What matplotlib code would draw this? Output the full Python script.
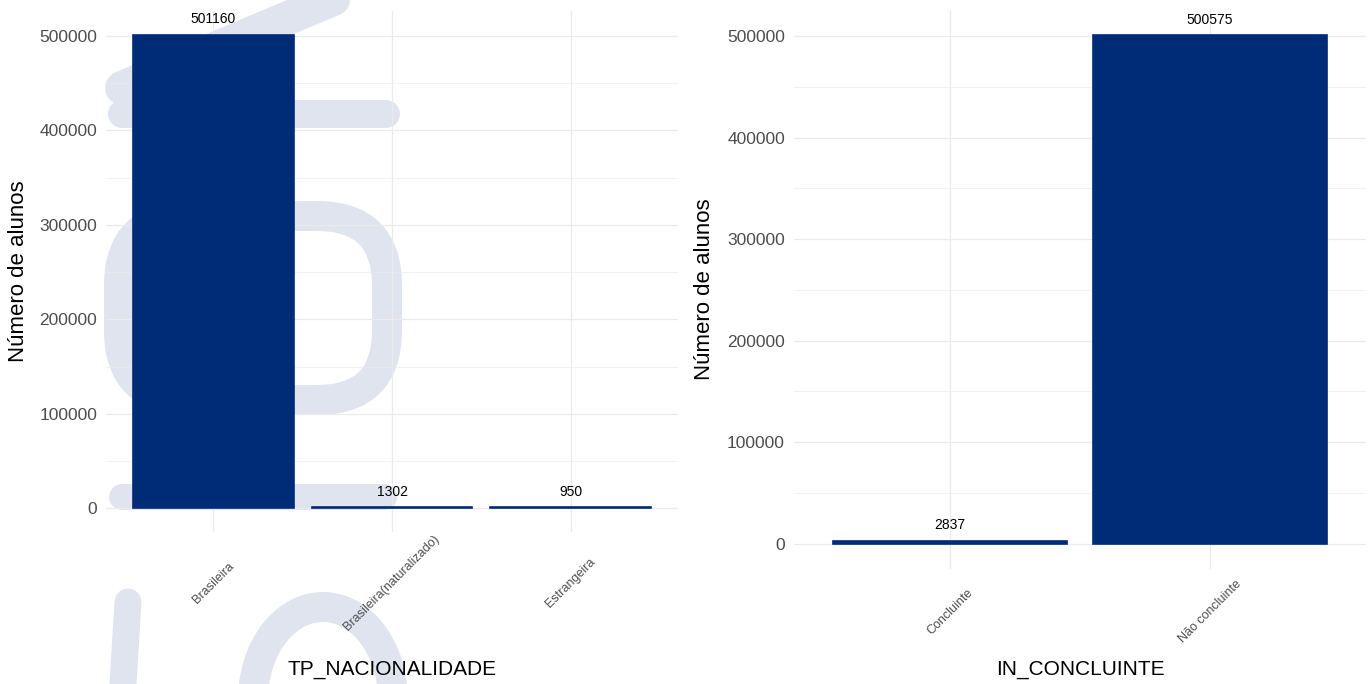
import numpy as np
import matplotlib
matplotlib.use("Agg")
import matplotlib.pyplot as plt
from matplotlib.patches import FancyBboxPatch

plt.rcParams['font.family'] = ['Liberation Sans', 'DejaVu Sans']

# dados
nac_cats = ["Brasileira", "Brasileira(naturalizado)", "Estrangeira"]
nac_vals = [501160, 1302, 950]
conc_cats = ["Concluinte", "Não concluinte"]
conc_vals = [2837, 500575]

cor_barra = "#002b77"
cor_grid = "#ebebeb"
cor_texto = "#4d4d4d"
cor_marca = "#e0e4ef"

fig = plt.figure(figsize=(13.72, 6.84), dpi=100)

# marca d'agua ao fundo (coordenadas em pixels da figura)
bg = fig.add_axes([0, 0, 1, 1], zorder=0)
bg.set_xlim(0, 1372)
bg.set_ylim(684, 0)
bg.axis("off")
px = 72 / 100  # pixel -> pontos
kw = dict(color=cor_marca, solid_capstyle="round")
bg.plot([122, 345], [88, -6], lw=34 * px, **kw)
bg.plot([122, 386], [114, 114], lw=28 * px, **kw)
bg.plot([122, 384], [497, 497], lw=26 * px, **kw)
bg.plot([128, 122], [602, 700], lw=27 * px, **kw)
anel = FancyBboxPatch((119, 216), 268, 184, boxstyle="round,pad=0,rounding_size=70",
                      fill=False, ec=cor_marca, lw=30 * px)
bg.add_patch(anel)
t = np.linspace(0, np.pi, 60)
bg.plot(323 - 70 * np.cos(t), 700 - 93 * np.sin(t), lw=30 * px, **kw)


def painel(ax, cats, vals, titulo, pad_x, y_titulo, x_ylabel):
    x = np.arange(len(cats))
    ax.set_facecolor("none")
    ax.bar(x, vals, width=0.9, color=cor_barra, edgecolor=cor_barra, lw=1.2, zorder=3)
    for xi, v in zip(x, vals):
        ax.annotate(str(v), (xi, v), xytext=(0, 6), textcoords="offset points",
                    ha="center", va="bottom", fontsize=10, color="black")
    vmax = max(vals)
    ax.set_ylim(-0.05 * vmax, 1.05 * vmax)
    ax.set_xlim(-0.6, len(cats) - 0.4)
    ax.set_yticks(np.arange(0, 500001, 100000))
    ax.set_yticks(np.arange(50000, 1.05 * vmax, 100000), minor=True)
    ax.set_xticks(x, cats)
    for lab in ax.get_xticklabels():
        lab.set_rotation(45)
        lab.set_ha("center")
        lab.set_va("center")
        lab.set_rotation_mode("anchor")
    ax.tick_params(axis="x", length=0, pad=pad_x, labelsize=9, labelcolor=cor_texto)
    ax.tick_params(axis="y", which="both", length=0, pad=6.5, labelsize=12.5, labelcolor=cor_texto)
    ax.grid(axis="both", which="major", color=cor_grid, lw=0.9)
    ax.grid(axis="y", which="minor", color=cor_grid, lw=0.45)
    ax.set_axisbelow(True)
    for s in ax.spines.values():
        s.set_visible(False)
    ax.set_xlabel(titulo, fontsize=15, color="black")
    ax.xaxis.set_label_coords(0.5, y_titulo)
    ax.set_ylabel("Número de alunos", fontsize=16, color="black")
    ax.yaxis.set_label_coords(x_ylabel, 0.5)


ax1 = fig.add_axes([0.0773, 0.2222, 0.4169, 0.7617], zorder=1)
painel(ax1, nac_cats, nac_vals, "TP_NACIONALIDADE", 36.7, -0.245, -0.135)

ax2 = fig.add_axes([0.5787, 0.1681, 0.4169, 0.8173], zorder=1)
painel(ax2, conc_cats, conc_vals, "IN_CONCLUINTE", 31, -0.163, -0.138)

fig.savefig("out.png", dpi=100)
